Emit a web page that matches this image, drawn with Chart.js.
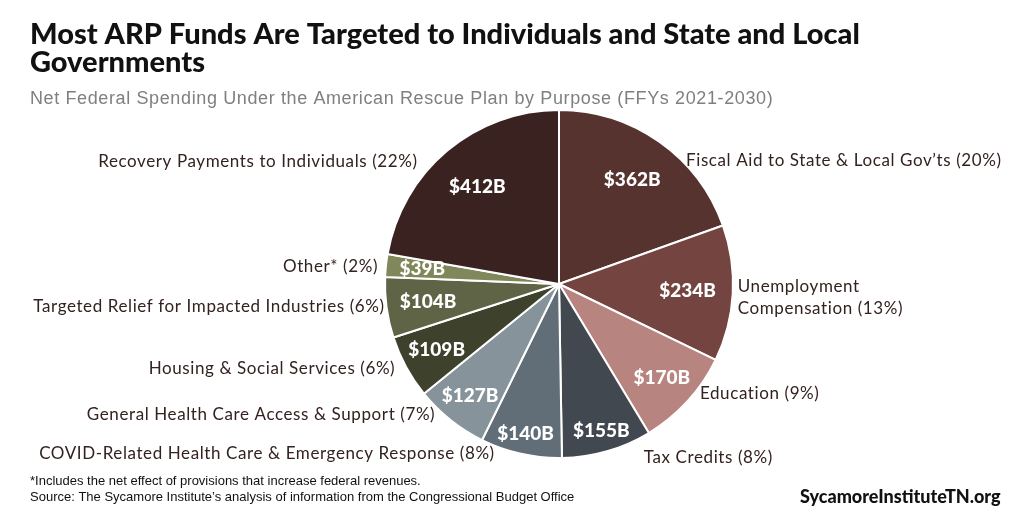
<!DOCTYPE html>
<html><head><meta charset="utf-8">
<script src="https://cdn.jsdelivr.net/npm/chart.js@4"></script>
<style>html,body{margin:0;padding:0;background:#fff;}canvas{display:block;}</style>
</head><body>
<canvas id="c" width="1024" height="512"></canvas>
<script>
const categories = [
  "Fiscal Aid to State & Local Gov\u2019ts",
  "Unemployment Compensation",
  "Education",
  "Tax Credits",
  "COVID-Related Health Care & Emergency Response",
  "General Health Care Access & Support",
  "Housing & Social Services",
  "Targeted Relief for Impacted Industries",
  "Other*",
  "Recovery Payments to Individuals"
];
const values = [362, 234, 170, 155, 140, 127, 109, 104, 39, 412];
const valueLabels = ["$362B","$234B","$170B","$155B","$140B","$127B","$109B","$104B","$39B","$412B"];
const outsideLabels = [
  ["Fiscal Aid to State & Local Gov\u2019ts (20%)"],
  ["Unemployment","Compensation (13%)"],
  ["Education (9%)"],
  ["Tax Credits (8%)"],
  ["COVID-Related Health Care & Emergency Response (8%)"],
  ["General Health Care Access & Support (7%)"],
  ["Housing & Social Services (6%)"],
  ["Targeted Relief for Impacted Industries (6%)"],
  ["Other* (2%)"],
  ["Recovery Payments to Individuals (22%)"]
];
const colors = ["#57332f","#744440","#b8847f","#41484f","#626e77","#87939a","#3e412b","#5f6446","#7f875b","#3a2220"];
// styling: radial fraction for inner value labels, nudges for callouts
const valueLabelRadius = [0.73,0.74,0.80,0.88,0.88,0.82,0.80,0.76,0.79,0.73];
const calloutNudge = [[21,27],[-5,4],[5,-14],[34,-3],[-24,-10],[-9,-13],[-2,-3],[8,-2],[2,2],[-23,18]];

const title1 = "Most ARP Funds Are Targeted to Individuals and State and Local";
const title2 = "Governments";
const subtitle = "Net Federal Spending Under the American Rescue Plan by Purpose (FFYs 2021-2030)";
const note1 = "*Includes the net effect of provisions that increase federal revenues.";
const note2 = "Source: The Sycamore Institute\u2019s analysis of information from the Congressional Budget Office";
const brand = "SycamoreInstituteTN.org";

function spacedText(ctx, text, x, y, targetW){
  ctx.letterSpacing = "0px";
  const w = ctx.measureText(text).width;
  const ls = (targetW - w) / (text.length - 1);
  if (ls > 0) { ctx.letterSpacing = ls.toFixed(2) + "px"; ctx.fillText(text, x, y); ctx.letterSpacing = "0px"; }
  else ctx.fillText(text, x, y, targetW);
}

const textPlugin = {
  id: 'texts',
  afterDraw(chart){
    const ctx = chart.ctx;
    ctx.save();
    ctx.textBaseline = 'alphabetic';
    ctx.textAlign = 'left';
    ctx.fillStyle = '#111';
    ctx.font = '900 29px Lato';
    ctx.fillText(title1, 30, 44, 858);
    ctx.fillText(title2, 30, 72, 184);
    ctx.fillStyle = '#7f7f7f';
    ctx.font = '18px "Liberation Sans"';
    spacedText(ctx, subtitle, 30, 104, 743);
    ctx.fillStyle = '#111';
    ctx.font = '13px "Liberation Sans"';
    ctx.fillText(note1, 30, 485, 395);
    ctx.fillText(note2, 30, 501, 583);
    ctx.font = '900 18px Lato';
    ctx.fillText(brand, 800, 503, 205);

    const meta = chart.getDatasetMeta(0);
    meta.data.forEach((arc, i) => {
      const mid = (arc.startAngle + arc.endAngle) / 2;
      const dx = Math.cos(mid), dy = Math.sin(mid);
      const r = arc.outerRadius;
      ctx.fillStyle = '#fff';
      ctx.font = '900 19px Lato';
      ctx.textAlign = 'center';
      ctx.textBaseline = 'middle';
      ctx.fillText(valueLabels[i], arc.x + dx*r*valueLabelRadius[i], arc.y + dy*r*valueLabelRadius[i]);
      const px = arc.x + dx*(r+10) + calloutNudge[i][0];
      const py = arc.y + dy*(r+10) + calloutNudge[i][1];
      ctx.fillStyle = '#33221f';
      ctx.font = '17px Lato';
      ctx.letterSpacing = '0.6px';
      ctx.textAlign = dx >= 0 ? 'left' : 'right';
      const lines = outsideLabels[i];
      const lh = 22;
      lines.forEach((ln, k) => {
        ctx.fillText(ln, px, py + (k - (lines.length-1)/2)*lh);
      });
      ctx.letterSpacing = '0px';
    });
    ctx.restore();
  }
};

new Chart(document.getElementById('c'), {
  type: 'pie',
  data: { labels: categories, datasets: [{ data: values, backgroundColor: colors, borderColor: '#ffffff', borderWidth: 2 }] },
  options: {
    responsive: false, devicePixelRatio: 1, animation: false,
    layout: { padding: { left: 384, right: 290, top: 109, bottom: 53 } },
    plugins: { legend: { display: false }, tooltip: { enabled: false }, title: { display: false } }
  },
  plugins: [textPlugin]
});
</script>
</body></html>
